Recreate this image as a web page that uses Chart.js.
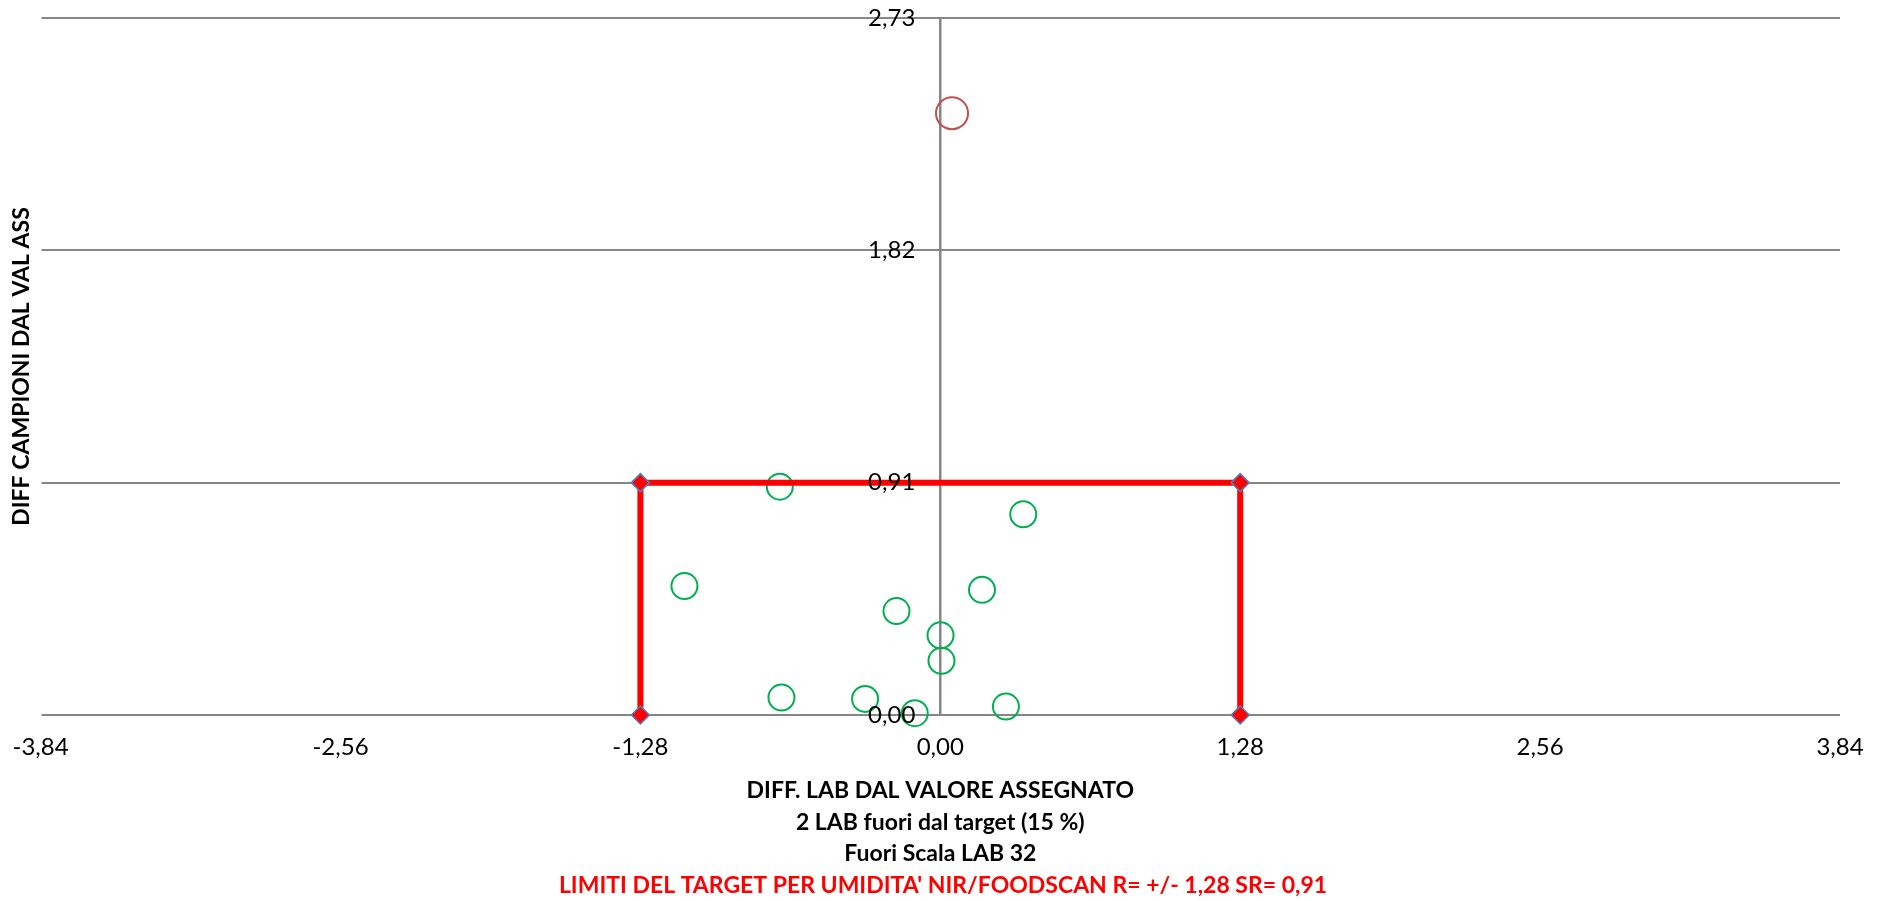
<!DOCTYPE html>
<html>
<head>
<meta charset="utf-8">
<script src="https://cdn.jsdelivr.net/npm/chart.js@4/dist/chart.umd.min.js"></script>
<style>
  html, body { margin: 0; padding: 0; background: #fff; }
  #wrap { width: 1886px; height: 901px; position: relative; }
</style>
</head>
<body>
<div id="wrap"><canvas id="myChart"></canvas></div>
<script>
// tick positions
const xTicks = [-3.84, -2.56, -1.28, 0, 1.28, 2.56, 3.84];
const yTicks = [0, 0.91, 1.82, 2.73];

// labs inside target (green)
const labX = [-0.685, -1.092, 0.354, 0.178, -0.187, 0.001, 0.005, -0.678, -0.321, -0.109, 0.28];
const labY = [0.894, 0.505, 0.786, 0.49, 0.407, 0.312, 0.212, 0.068, 0.063, 0.007, 0.033];

// lab out of target (red)
const outX = [0.05];
const outY = [2.357];

// target box corners
const targetX = [-1.28, -1.28, 1.28, 1.28];
const targetY = [0, 0.91, 0.91, 0];

const xTitle = ["DIFF. LAB DAL VALORE ASSEGNATO", "2 LAB fuori dal target (15 %)", "Fuori Scala LAB 32"];
const yTitle = "DIFF CAMPIONI DAL VAL ASS";
const limitText = "LIMITI DEL TARGET PER UMIDITA' NIR/FOODSCAN R= +/- 1,28 SR= 0,91";

const toPoints = (xs, ys) => xs.map((x, i) => ({ x: x, y: ys[i] }));
const fmt = (v) => Number(v).toFixed(2).replace(".", ",");

const ctx = document.getElementById("myChart").getContext("2d");
const gridColor = "#868686";

// move the y axis (labels + line) onto x = 0 after layout
const yAtZero = {
  id: "yAtZero",
  afterLayout(chart) {
    const y = chart.scales.y;
    const px = chart.scales.x.getPixelForValue(0);
    y.left = px - 200;
    y.right = px;
  },
};

new Chart(ctx, {
  type: "scatter",
  data: {
    datasets: [
      {
        label: "target",
        data: toPoints(targetX, targetY),
        showLine: true,
        borderColor: "#FF0000",
        borderWidth: 6,
        pointStyle: "rectRot",
        pointRadius: 9,
        pointBackgroundColor: "#FF0000",
        pointBorderColor: "#4F81BD",
        pointBorderWidth: 1.5,
        clip: false,
      },
      {
        label: "fuori",
        data: toPoints(outX, outY),
        pointStyle: "circle",
        pointRadius: 16,
        backgroundColor: "rgba(0,0,0,0)",
        borderColor: "#C0504D",
        borderWidth: 2,
        clip: false,
      },
      {
        label: "lab",
        data: toPoints(labX, labY),
        pointStyle: "circle",
        pointRadius: 13,
        backgroundColor: "rgba(0,0,0,0)",
        borderColor: "#00B050",
        borderWidth: 2,
        clip: false,
      },
    ],
  },
  plugins: [yAtZero],
  options: {
    responsive: true,
    maintainAspectRatio: false,
    animation: false,
    layout: { autoPadding: false, padding: { top: 18, right: 0, bottom: 0, left: 0 } },
    plugins: {
      legend: { display: false },
      tooltip: { enabled: false },
      title: {
        display: true,
        position: "bottom",
        text: limitText,
        color: "#FF0000",
        font: { family: "Lato", size: 23, weight: "bold", lineHeight: 1.37 },
        padding: { top: 0, bottom: 0 },
      },
    },
    scales: {
      x: {
        type: "linear",
        position: "bottom",
        min: xTicks[0],
        max: xTicks[xTicks.length - 1],
        afterBuildTicks: (scale) => {
          scale.ticks = xTicks.map((v) => ({ value: v }));
        },
        afterFit: (scale) => {
          scale.paddingLeft = 0;
          scale.paddingRight = 46;
        },
        grid: { display: false, drawTicks: false },
        border: { display: false },
        ticks: {
          color: "#000",
          padding: 20,
          maxRotation: 0,
          font: { family: "Lato", size: 24, lineHeight: 1 },
          callback: (v) => fmt(v),
        },
        title: {
          display: true,
          text: xTitle,
          color: "#000",
          font: { family: "Lato", size: 23, weight: "bold", lineHeight: 1.37 },
          padding: { top: -4, bottom: 0 },
        },
      },
      y: {
        type: "linear",
        position: "left",
        min: yTicks[0],
        max: yTicks[yTicks.length - 1],
        afterBuildTicks: (scale) => {
          scale.ticks = yTicks.map((v) => ({ value: v }));
        },
        afterFit: (scale) => {
          scale.width = 0;
          scale.paddingTop = 0;
          scale.paddingBottom = 0;
        },
        grid: { color: gridColor, lineWidth: 2, drawTicks: false },
        border: { display: true, color: gridColor, width: 2.5 },
        ticks: {
          color: "#000",
          padding: 25,
          z: 1,
          font: { family: "Lato", size: 24, lineHeight: 1 },
          callback: (v) => fmt(v),
        },
      },
      yTitleAxis: {
        type: "linear",
        position: "left",
        min: yTicks[0],
        max: yTicks[yTicks.length - 1],
        grid: { display: false, drawTicks: false },
        border: { display: false },
        ticks: { display: false },
        title: {
          display: true,
          text: yTitle,
          color: "#000",
          font: { family: "Lato", size: 23, weight: "bold", lineHeight: 1.2 },
          padding: { top: 8, bottom: 5 },
        },
      },
    },
  },
});
</script>
</body>
</html>
